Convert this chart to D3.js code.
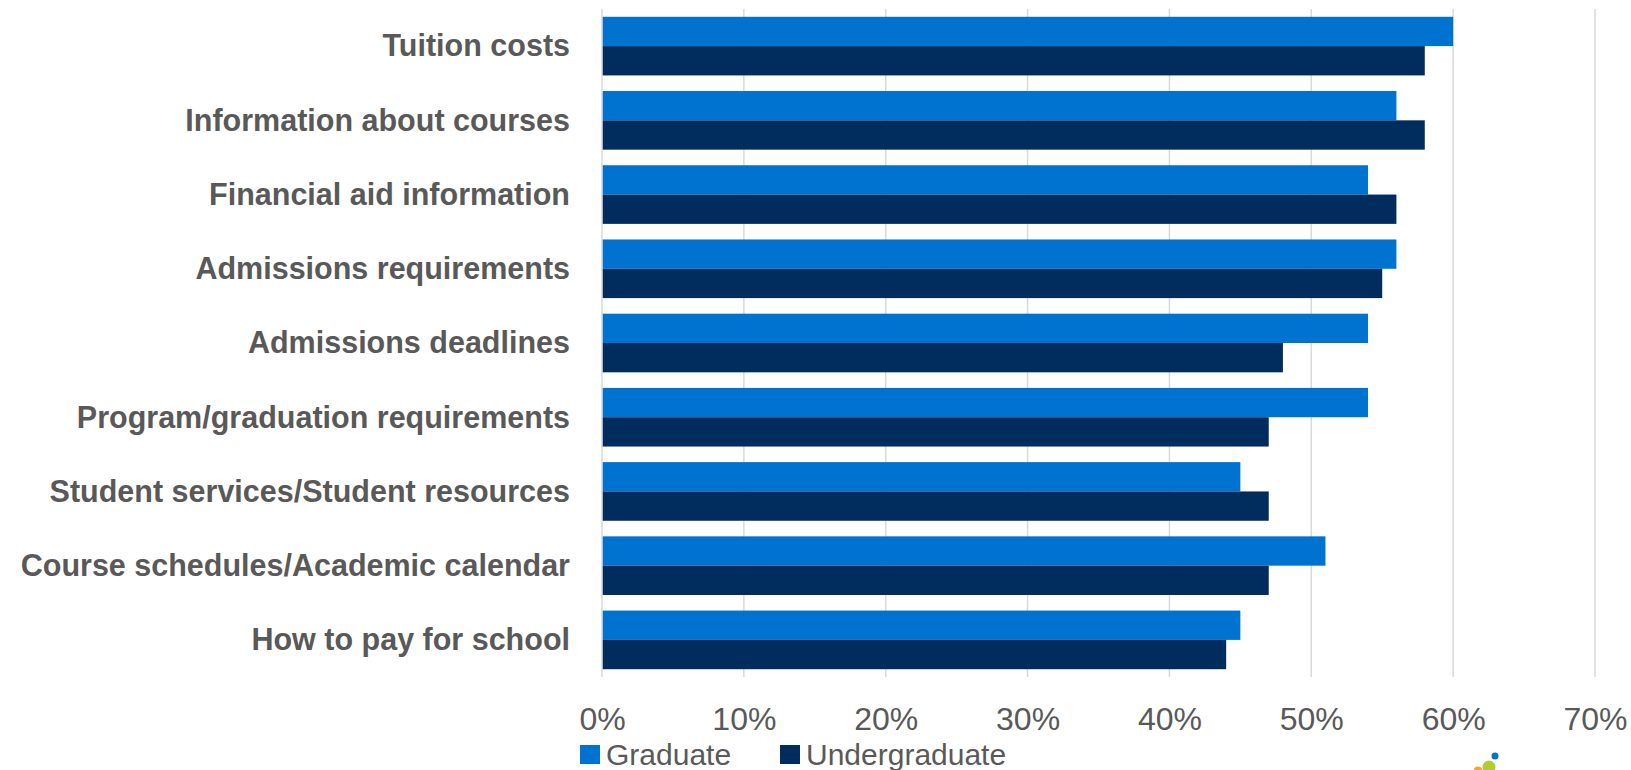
<!DOCTYPE html>
<html>
<head>
<meta charset="utf-8">
<script src="https://cdn.jsdelivr.net/npm/d3@7/dist/d3.min.js"></script>
<style>
  html, body { margin: 0; padding: 0; background: #fff; }
  svg { display: block; }
</style>
</head>
<body>
<svg id="chart" width="1631" height="770"></svg>
<script>
const categories = [
  "Tuition costs",
  "Information about courses",
  "Financial aid information",
  "Admissions requirements",
  "Admissions deadlines",
  "Program/graduation requirements",
  "Student services/Student resources",
  "Course schedules/Academic calendar",
  "How to pay for school"
];
const seriesNames = ["Graduate", "Undergraduate"];
const graduate      = [60, 56, 54, 56, 54, 54, 45, 51, 45];
const undergraduate = [58, 58, 56, 55, 48, 47, 47, 47, 44];
const tickValues = [0, 10, 20, 30, 40, 50, 60, 70];
const colors = ["#0072CF", "#002C5E"];

const svg = d3.select("#chart");
const margin = { left: 602, right: 36, top: 9, bottom: 93 };
const W = 1631, H = 770;

const x = d3.scaleLinear().domain([0, 70]).range([margin.left, W - margin.right]);
const y = d3.scaleBand().domain(categories).range([margin.top, H - margin.bottom])
  .paddingInner(0.21).paddingOuter(0.105);
const ySub = d3.scaleBand().domain(seriesNames).range([0, y.bandwidth()]);

// gridlines
svg.append("g").selectAll("line").data(tickValues).join("line")
  .attr("x1", d => x(d)).attr("x2", d => x(d))
  .attr("y1", margin.top).attr("y2", H - margin.bottom)
  .attr("stroke", "#d9d9d9").attr("stroke-width", 1.5);

const data = categories.map((c, i) => ({ c, vals: [graduate[i], undergraduate[i]] }));

const groups = svg.append("g").selectAll("g").data(data).join("g")
  .attr("transform", d => `translate(0,${y(d.c)})`);
groups.selectAll("rect").data(d => d.vals.map((v, j) => ({ v, s: seriesNames[j], j })))
  .join("rect")
  .attr("x", x(0) + 0.75)
  .attr("y", d => ySub(d.s))
  .attr("width", d => x(d.v) - x(0) - 0.75)
  .attr("height", ySub.bandwidth())
  .attr("fill", d => colors[d.j]);

// category axis
const yAxis = svg.append("g").attr("transform", `translate(${x(0)},0)`)
  .call(d3.axisLeft(y).tickSize(0).tickPadding(32));
yAxis.select(".domain").remove();
yAxis.selectAll("text")
  .attr("fill", "#595959")
  .style("font-family", "'Liberation Sans', Arial, sans-serif")
  .style("font-weight", "bold")
  .style("font-size", "30.5px")
  .attr("dy", "0.34em");

// value axis
const xAxis = svg.append("g").attr("transform", `translate(0,${H - margin.bottom})`)
  .call(d3.axisBottom(x).tickValues(tickValues).tickFormat(d => d + "%").tickSize(0).tickPadding(0));
xAxis.select(".domain").remove();
xAxis.selectAll("text")
  .attr("fill", "#595959")
  .attr("y", 53)
  .attr("dy", 0)
  .style("font-family", "'Liberation Sans', Arial, sans-serif")
  .style("font-size", "32px");

// legend
const legendX = [580, 780];
const legend = svg.append("g").selectAll("g").data(seriesNames).join("g")
  .attr("transform", (d, i) => `translate(${legendX[i]},0)`);
legend.append("rect").attr("x", 0).attr("y", 745).attr("width", 20).attr("height", 19)
  .attr("fill", (d, i) => colors[i]);
legend.append("text").attr("x", 26).attr("y", 765).text(d => d)
  .attr("fill", "#595959")
  .style("font-family", "'Liberation Sans', Arial, sans-serif")
  .style("font-size", "30px");

// decorative logo dots (bottom right)
const logo = svg.append("g");
logo.append("circle").attr("cx", 1495).attr("cy", 756).attr("r", 3.5).attr("fill", "#0072CF");
logo.append("circle").attr("cx", 1489).attr("cy", 767).attr("r", 6.5).attr("fill", "#B5CC2E");
logo.append("circle").attr("cx", 1478).attr("cy", 771).attr("r", 4.5).attr("fill", "#F0A830");
</script>
</body>
</html>
